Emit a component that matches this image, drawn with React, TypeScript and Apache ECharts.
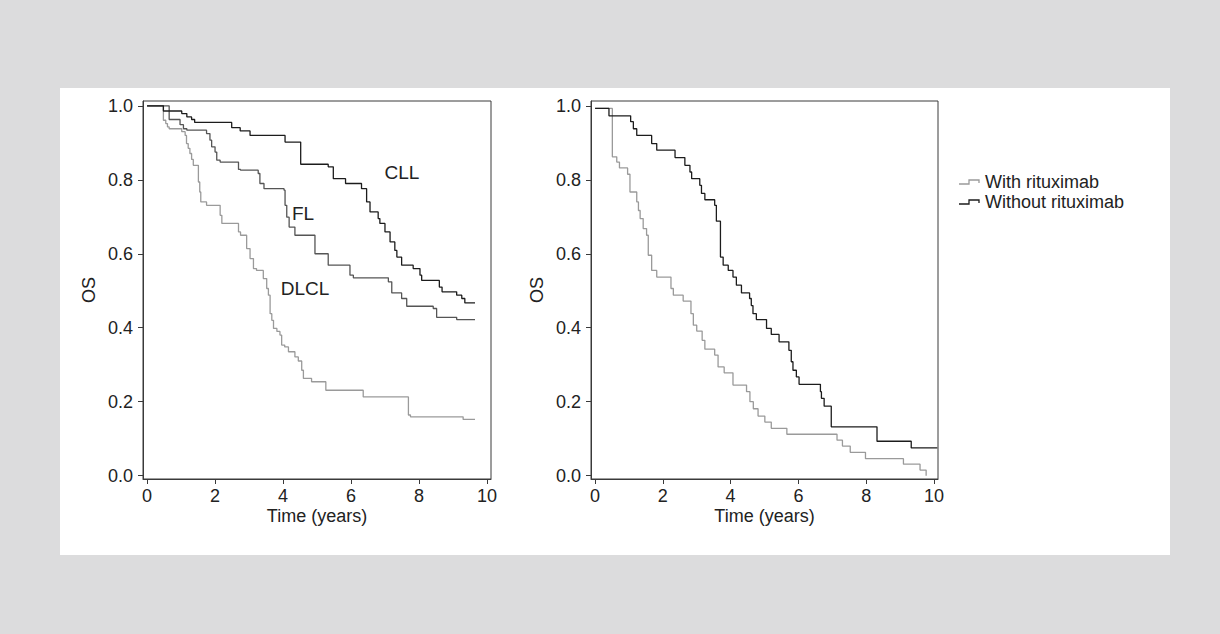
import React, { useEffect, useRef } from "react";
import * as echarts from "echarts";

// Left panel: OS by lymphoma subtype (time in years, survival probability)
const cllData: [number, number][] = [
  [0, 1.0], [0.48, 0.986], [1.02, 0.979], [1.17, 0.97], [1.31, 0.963], [1.4, 0.955],
  [2.49, 0.941], [2.74, 0.932], [3.03, 0.92], [4.06, 0.902], [4.52, 0.842], [5.33, 0.835],
  [5.48, 0.803], [5.84, 0.79], [6.31, 0.776], [6.46, 0.74], [6.56, 0.713], [6.8, 0.695],
  [6.85, 0.682], [7.0, 0.659], [7.15, 0.632], [7.29, 0.609], [7.35, 0.591], [7.49, 0.569],
  [7.83, 0.56], [8.03, 0.542], [8.08, 0.528], [8.6, 0.51], [8.68, 0.497], [9.11, 0.488],
  [9.26, 0.479], [9.35, 0.467], [9.65, 0.467],
];

const flData: [number, number][] = [
  [0, 1.0], [0.65, 0.963], [0.97, 0.949], [1.07, 0.938], [1.17, 0.934], [1.75, 0.925],
  [1.85, 0.907], [1.9, 0.889], [2.0, 0.875], [2.05, 0.853], [2.15, 0.848], [2.69, 0.828],
  [2.75, 0.826], [3.27, 0.817], [3.32, 0.79], [3.44, 0.776], [4.03, 0.772], [4.06, 0.731],
  [4.11, 0.699], [4.18, 0.672], [4.35, 0.65], [4.94, 0.6], [5.33, 0.569], [5.97, 0.542],
  [6.07, 0.535], [7.1, 0.524], [7.2, 0.494], [7.49, 0.479], [7.64, 0.458], [8.42, 0.452],
  [8.52, 0.428], [9.11, 0.422], [9.65, 0.422],
];

const dlclData: [number, number][] = [
  [0, 1.0], [0.48, 0.961], [0.55, 0.952], [0.6, 0.943], [0.65, 0.938], [1.02, 0.93],
  [1.12, 0.92], [1.16, 0.898], [1.21, 0.885], [1.26, 0.871], [1.31, 0.855], [1.36, 0.839],
  [1.51, 0.794], [1.55, 0.767], [1.58, 0.74], [1.75, 0.731], [2.15, 0.704], [2.2, 0.682],
  [2.69, 0.659], [2.75, 0.65], [2.93, 0.614], [3.03, 0.587], [3.13, 0.56], [3.22, 0.555],
  [3.42, 0.533], [3.52, 0.506], [3.57, 0.488], [3.62, 0.438], [3.67, 0.42], [3.72, 0.398],
  [3.82, 0.39], [3.91, 0.38], [3.96, 0.353], [4.05, 0.348], [4.16, 0.335], [4.35, 0.321],
  [4.45, 0.31], [4.55, 0.285], [4.6, 0.263], [4.84, 0.254], [5.26, 0.231], [6.36, 0.213],
  [7.69, 0.164], [7.75, 0.159], [9.3, 0.152], [9.65, 0.152],
];

// Right panel: OS with / without rituximab
const withRituximab: [number, number][] = [
  [0, 0.993], [0.51, 0.862], [0.64, 0.848], [0.72, 0.832], [0.96, 0.815], [1.03, 0.767],
  [1.23, 0.74], [1.28, 0.717], [1.33, 0.695], [1.42, 0.668], [1.52, 0.65], [1.57, 0.596],
  [1.67, 0.555], [1.82, 0.537], [2.24, 0.506], [2.31, 0.488], [2.6, 0.472], [2.83, 0.438],
  [2.9, 0.407], [3.0, 0.391], [3.16, 0.366], [3.24, 0.342], [3.53, 0.326], [3.63, 0.294],
  [3.81, 0.278], [4.07, 0.245], [4.47, 0.227], [4.57, 0.2], [4.67, 0.181], [4.81, 0.161],
  [5.01, 0.145], [5.2, 0.128], [5.66, 0.112], [7.14, 0.096], [7.3, 0.08], [7.53, 0.063],
  [7.98, 0.046], [9.1, 0.031], [9.59, 0.015], [9.77, 0.0],
];

const withoutRituximab: [number, number][] = [
  [0, 0.993], [0.41, 0.973], [1.05, 0.957], [1.13, 0.938], [1.23, 0.92], [1.67, 0.898],
  [1.82, 0.88], [2.36, 0.86], [2.65, 0.839], [2.8, 0.821], [2.85, 0.803], [3.09, 0.785],
  [3.14, 0.763], [3.24, 0.746], [3.53, 0.731], [3.58, 0.688], [3.7, 0.591], [3.78, 0.569],
  [3.93, 0.555], [4.07, 0.537], [4.17, 0.515], [4.32, 0.494], [4.56, 0.479], [4.61, 0.46],
  [4.66, 0.438], [4.76, 0.422], [5.06, 0.398], [5.2, 0.382], [5.43, 0.362], [5.72, 0.339],
  [5.79, 0.308], [5.84, 0.285], [5.94, 0.267], [6.02, 0.247], [6.65, 0.227], [6.68, 0.209],
  [6.76, 0.188], [6.97, 0.132], [8.32, 0.093], [9.33, 0.075], [10.1, 0.075],
];

const xTicks = [0, 2, 4, 6, 8, 10];
const yTicks = [0, 0.2, 0.4, 0.6, 0.8, 1.0];
const xTitle = "Time (years)";
const yTitle = "OS";
const legendLabels = ["With rituximab", "Without rituximab"];
const curveLabels = ["CLL", "FL", "DLCL"];

export default function App() {
  const ref = useRef<HTMLDivElement>(null);

  useEffect(() => {
    if (!ref.current) return;
    const chart = echarts.init(ref.current, null, { renderer: "svg" });
    const font = "'Liberation Sans', Arial, Helvetica, sans-serif";
    const axisColor = "#3a3a3a";
    const textColor = "#222";

    const mkX = (i: number) => ({
      type: "value",
      gridIndex: i,
      min: -0.12,
      max: 10.12,
      name: xTitle,
      nameLocation: "middle",
      nameGap: 29,
      nameMoveOverlap: false,
      nameTextStyle: { fontFamily: font, fontSize: 18, lineHeight: 16, color: textColor },
      axisLine: { show: true, onZero: false, lineStyle: { color: axisColor, width: 1 } },
      axisTick: { show: true, customValues: xTicks, length: 5, lineStyle: { color: axisColor } },
      axisLabel: {
        customValues: xTicks,
        margin: 9,
        fontFamily: font,
        fontSize: 18,
        lineHeight: 16,
        color: textColor,
        formatter: (v: number) => String(v),
      },
      splitLine: { show: false },
    });

    const mkY = (i: number) => ({
      type: "value",
      gridIndex: i,
      min: -0.009,
      max: 1.013,
      name: yTitle,
      nameLocation: "middle",
      nameGap: 45,
      nameMoveOverlap: false,
      nameTextStyle: { fontFamily: font, fontSize: 18, color: textColor },
      axisLine: { show: true, onZero: false, lineStyle: { color: axisColor, width: 1 } },
      axisTick: { show: true, customValues: yTicks, length: 5, lineStyle: { color: axisColor } },
      axisLabel: {
        customValues: yTicks,
        margin: 10,
        fontFamily: font,
        fontSize: 18,
        color: textColor,
        formatter: (v: number) => v.toFixed(1),
      },
      splitLine: { show: false },
    });

    const mkSeries = (name: string, data: [number, number][], idx: number, color: string, z: number) => ({
      name,
      type: "line",
      step: "end",
      xAxisIndex: idx,
      yAxisIndex: idx,
      data,
      showSymbol: false,
      symbol: "none",
      z,
      lineStyle: { color, width: 1.3 },
      itemStyle: { color },
      emphasis: { disabled: true },
    });

    const lg = (y: number, color: string, label: string, dy: number) => [
      {
        type: "polyline",
        shape: { points: [[959, y + dy], [969, y + dy], [969, y - 2], [979, y - 2], [979, y + 1]] },
        style: { stroke: color, fill: "none", lineWidth: 1.3 },
      },
      {
        type: "text",
        x: 985,
        y,
        style: { text: label, fontFamily: font, fontSize: 18, fill: textColor, textVerticalAlign: "middle", verticalAlign: "middle" },
      },
    ];

    chart.setOption({
      animation: false,
      backgroundColor: "#dcdcdd",
      grid: [
        { left: 143, top: 101, width: 348, height: 378, show: true, borderColor: axisColor, borderWidth: 1, backgroundColor: "transparent" },
        { left: 591, top: 101, width: 347, height: 378, show: true, borderColor: axisColor, borderWidth: 1, backgroundColor: "transparent" },
      ],
      xAxis: [mkX(0), mkX(1)],
      yAxis: [mkY(0), mkY(1)],
      series: [
        mkSeries("DLCL", dlclData, 0, "#9a9a9a", 2),
        mkSeries("FL", flData, 0, "#555555", 3),
        mkSeries("CLL", cllData, 0, "#1c1c1c", 4),
        mkSeries(legendLabels[0], withRituximab, 1, "#9a9a9a", 2),
        mkSeries(legendLabels[1], withoutRituximab, 1, "#1c1c1c", 3),
      ],
      graphic: [
        {
          type: "rect",
          z: -10,
          silent: true,
          shape: { x: 60, y: 88, width: 1110, height: 467 },
          style: { fill: "#ffffff" },
        },
        {
          type: "text",
          x: 402,
          y: 172,
          style: { text: curveLabels[0], fontFamily: font, fontSize: 19, fill: textColor, align: "center", verticalAlign: "middle" },
        },
        {
          type: "text",
          x: 303,
          y: 213,
          style: { text: curveLabels[1], fontFamily: font, fontSize: 19, fill: textColor, align: "center", verticalAlign: "middle" },
        },
        {
          type: "text",
          x: 305,
          y: 288,
          style: { text: curveLabels[2], fontFamily: font, fontSize: 19, fill: textColor, align: "center", verticalAlign: "middle" },
        },
        ...lg(182, "#9a9a9a", legendLabels[0], 2),
        ...lg(202, "#1c1c1c", legendLabels[1], 2),
      ],
    });

    return () => chart.dispose();
  }, []);

  return (
    <div
      ref={ref}
      style={{ position: "absolute", left: 0, top: 0, width: 1220, height: 634 }}
    />
  );
}
